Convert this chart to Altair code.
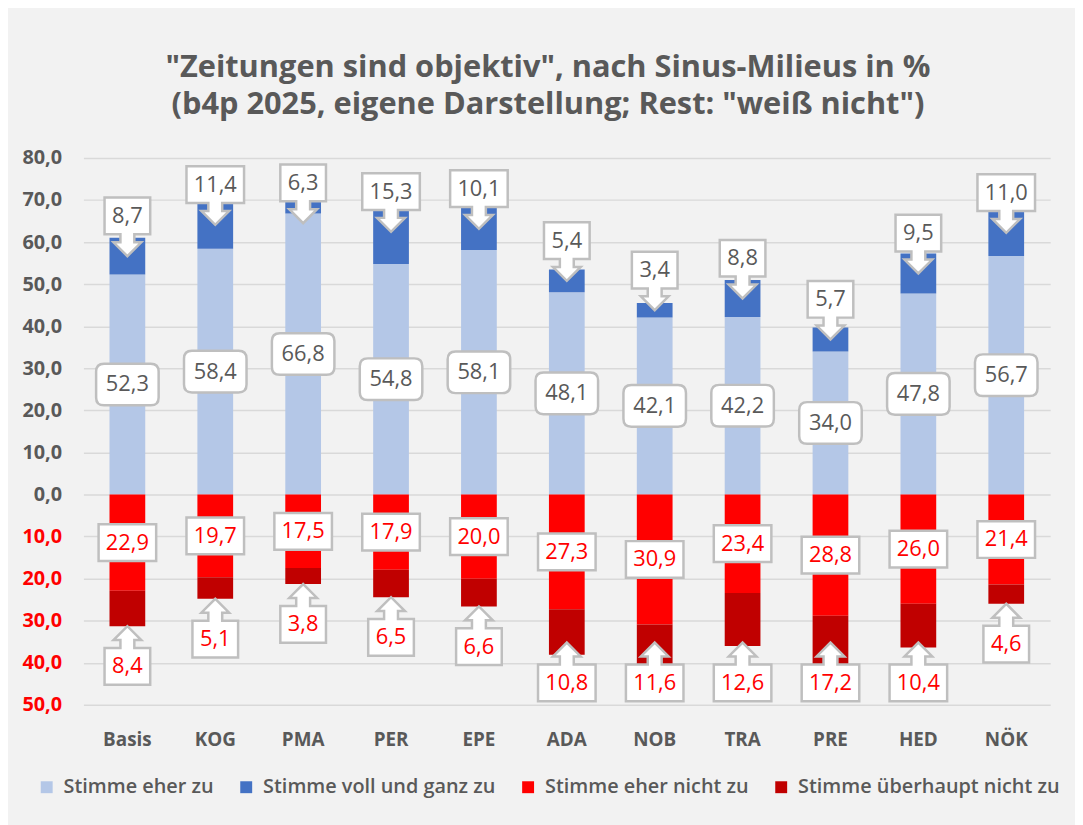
import altair as alt
import pandas as pd

cats = ["Basis", "KOG", "PMA", "PER", "EPE", "ADA", "NOB", "TRA", "PRE", "HED", "NÖK"]
eher_zu = [52.3, 58.4, 66.8, 54.8, 58.1, 48.1, 42.1, 42.2, 34.0, 47.8, 56.7]
voll_zu = [8.7, 11.4, 6.3, 15.3, 10.1, 5.4, 3.4, 8.8, 5.7, 9.5, 11.0]
eher_nicht = [22.9, 19.7, 17.5, 17.9, 20.0, 27.3, 30.9, 23.4, 28.8, 26.0, 21.4]
ueberhaupt_nicht = [8.4, 5.1, 3.8, 6.5, 6.6, 10.8, 11.6, 12.6, 17.2, 10.4, 4.6]
series = ["Stimme eher zu", "Stimme voll und ganz zu", "Stimme eher nicht zu", "Stimme überhaupt nicht zu"]
colors = ["#B4C7E7", "#4472C4", "#FF0000", "#C00000"]

FONT = "Open Sans"
GRAY = "#595959"
BOX_STROKE = "#BFBFBF"


def de(v):
    return f"{v:.1f}".replace(".", ",")


# bar table (negative answers drawn downward)
rows = []
for i, c in enumerate(cats):
    for k, (name, vals, sign) in enumerate(zip(series, [eher_zu, voll_zu, eher_nicht, ueberhaupt_nicht], [1, 1, -1, -1])):
        rows.append({"cat": c, "series": name, "value": sign * vals[i], "ord": k})
bars_df = pd.DataFrame(rows)

# label tables derived from the arrays
lb = pd.DataFrame({"cat": cats, "y": [v / 2 for v in eher_zu], "lab": [de(v) for v in eher_zu]})
db = pd.DataFrame({
    "cat": cats,
    "y": [min(a + b / 2, 64.5) for a, b in zip(eher_zu, voll_zu)],
    "lab": [de(v) for v in voll_zu],
})
rd = pd.DataFrame({"cat": cats, "y": [-v / 2 for v in eher_nicht], "lab": [de(v) for v in eher_nicht]})
drd = pd.DataFrame({
    "cat": cats,
    "y": [max(-(a + b), -35.2) for a, b in zip(eher_nicht, ueberhaupt_nicht)],
    "lab": [de(v) for v in ueberhaupt_nicht],
})

x_enc = alt.X(
    "cat:N", sort=cats, title=None,
    scale=alt.Scale(paddingInner=0, paddingOuter=0),
    axis=alt.Axis(labelAngle=0, domain=False, ticks=False, labelPadding=26,
                  labelFont=FONT, labelFontSize=19, labelFontWeight="bold", labelColor=GRAY),
)
y_scale = alt.Scale(domain=[-50, 80], nice=False, zero=False)

bars = alt.Chart(bars_df).mark_bar(size=36).encode(
    x=x_enc,
    y=alt.Y(
        "value:Q", stack="zero", scale=y_scale, title=None,
        axis=alt.Axis(
            values=list(range(-50, 81, 10)), domain=False, ticks=False, labelPadding=22,
            grid=True, gridColor="#D9D9D9", gridWidth=1.5,
            labelFont=FONT, labelFontSize=20, labelFontWeight="bold",
            labelColor={"condition": {"test": "datum.value < 0", "value": "#FF0000"}, "value": GRAY},
            labelExpr="replace(format(abs(datum.value), '.1f'), '.', ',')",
        ),
    ),
    color=alt.Color(
        "series:N", scale=alt.Scale(domain=series, range=colors),
        legend=alt.Legend(
            title=None, orient="none", legendX=-47, legendY=624, direction="horizontal",
            columns=4, symbolType="square", symbolSize=144, symbolStrokeWidth=0,
            labelFont=FONT, labelFontSize=20, labelFontWeight=600, labelColor=GRAY,
            labelOffset=7, columnPadding=22, labelLimit=400,
        ),
    ),
    order=alt.Order("ord:Q", sort="ascending"),
)

ROUND = ("M-23.5,-21 H23.5 Q31.5,-21 31.5,-13 V13 Q31.5,21 23.5,21 H-23.5 "
         "Q-31.5,21 -31.5,13 V-13 Q-31.5,-21 -23.5,-21 Z")
RECT = "M-29,-18.5 H29 V18.5 H-29 Z"
DOWN4 = "M-29,-59 H29 V-22 H7 V-14 H14 L0,0 L-14,-14 H-7 V-22 H-29 Z"
DOWN3 = "M-23,-59 H23 V-22 H7 V-14 H14 L0,0 L-14,-14 H-7 V-22 H-23 Z"
UP4 = "M-29,59 H29 V22 H7 V14 H14 L0,0 L-14,14 H-7 V22 H-29 Z"
UP3 = "M-23,59 H23 V22 H7 V14 H14 L0,0 L-14,14 H-7 V22 H-23 Z"


def boxes(df, shape, dy, color):
    pt = alt.Chart(df).mark_point(
        filled=True, fill="white", stroke=BOX_STROKE, strokeWidth=2.5,
        strokeJoin="miter", size=4, opacity=1,
    ).encode(
        x=alt.X("cat:N", sort=cats),
        y=alt.Y("y:Q", scale=y_scale),
        shape=shape,
    )
    tx = alt.Chart(df).mark_text(
        font=FONT, fontSize=22, color=color, dy=dy, baseline="middle", align="center",
    ).encode(
        x=alt.X("cat:N", sort=cats),
        y=alt.Y("y:Q", scale=y_scale),
        text="lab:N",
    )
    return pt + tx


lb_layer = boxes(lb, alt.value(ROUND), 0, GRAY)
rd_layer = boxes(rd, alt.value(RECT), 0, "#FF0000")
db_layer = boxes(db, alt.condition("length(datum.lab) > 3", alt.value(DOWN4), alt.value(DOWN3)), -40.5, GRAY)
drd_layer = boxes(drd, alt.condition("length(datum.lab) > 3", alt.value(UP4), alt.value(UP3)), 40.5, "#FF0000")

chart = alt.layer(bars, lb_layer, rd_layer, db_layer, drd_layer).properties(
    width=974,
    height=551,
    autosize=alt.AutoSizeParams(type="none"),
    padding={"left": 76, "top": 148, "right": 25, "bottom": 118},
    background="#F2F2F2",
    title=alt.Title(
        ['"Zeitungen sind objektiv", nach Sinus-Milieus in %',
         '(b4p 2025, eigene Darstellung; Rest: "weiß nicht")'],
        font=FONT, fontSize=31, fontWeight="bold", color=GRAY,
        lineHeight=38, anchor="middle", offset=27, dx=-19,
    ),
).configure_view(stroke=None)

chart.save("out.html", embed_options={"renderer": "svg", "actions": False})
